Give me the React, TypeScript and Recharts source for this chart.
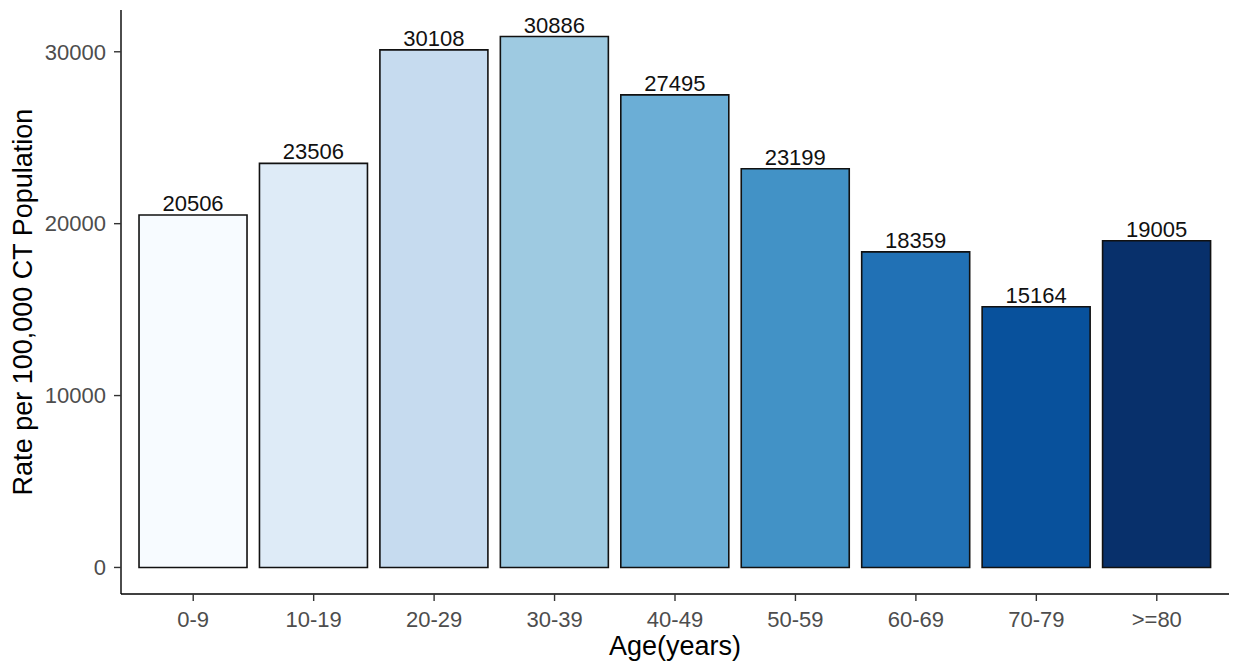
import React from "react";
import { BarChart, Bar, XAxis, YAxis, Cell, LabelList } from "recharts";

const categories = ["0-9", "10-19", "20-29", "30-39", "40-49", "50-59", "60-69", "70-79", ">=80"];
const rates = [20506, 23506, 30108, 30886, 27495, 23199, 18359, 15164, 19005];
const colors = ["#F7FBFF", "#DEEBF7", "#C6DBEF", "#9ECAE1", "#6BAED6", "#4292C6", "#2171B5", "#08519C", "#08306B"];
const yTicks = [0, 10000, 20000, 30000];

const data = categories.map((c, i) => ({ age: c, rate: rates[i] }));

const FONT = "'Liberation Sans', Arial, sans-serif";
const maxV = Math.max(...rates);
const pad = maxV * 0.05;

export default function App() {
  return (
    <div style={{ width: 1233, height: 668 }}>
      <style>{`body{margin:0;}`}</style>
      <BarChart
        width={1233}
        height={668}
        data={data}
        margin={{ top: 10, right: 4, bottom: 0, left: 0 }}
        barCategoryGap="5%"
      >
        <XAxis
          dataKey="age"
          height={74}
          padding={{ left: 12, right: 12 }}
          tickSize={7}
          tickMargin={10}
          axisLine={{ stroke: "#000", strokeWidth: 1.4 }}
          tickLine={{ stroke: "#333", strokeWidth: 1.4 }}
          tick={{ fill: "#4D4D4D", fontSize: 22, fontFamily: FONT }}
          label={{
            content: (props: any) => {
              const vb = props.viewBox;
              return (
                <text
                  x={vb.x + vb.width / 2}
                  y={655}
                  textAnchor="middle"
                  fontSize={27}
                  fontFamily={FONT}
                  fill="#000"
                >
                  Age(years)
                </text>
              );
            },
          }}
        />
        <YAxis
          width={121}
          domain={[-pad, maxV + pad]}
          ticks={yTicks}
          allowDataOverflow
          tickSize={7}
          tickMargin={8}
          axisLine={{ stroke: "#000", strokeWidth: 1.4 }}
          tickLine={{ stroke: "#333", strokeWidth: 1.4 }}
          tick={{ fill: "#4D4D4D", fontSize: 22, fontFamily: FONT }}
          label={{
            content: (props: any) => {
              const vb = props.viewBox;
              const cy = vb.y + vb.height / 2;
              return (
                <text
                  x={32}
                  y={cy}
                  transform={`rotate(-90, 32, ${cy})`}
                  textAnchor="middle"
                  fontSize={27}
                  fontFamily={FONT}
                  fill="#000"
                >
                  Rate per 100,000 CT Population
                </text>
              );
            },
          }}
        />
        <Bar dataKey="rate" isAnimationActive={false} stroke="#111" strokeWidth={1.6}>
          {data.map((d, i) => (
            <Cell key={d.age} fill={colors[i]} />
          ))}
          <LabelList
            dataKey="rate"
            position="top"
            offset={4}
            fill="#111"
            fontSize={22}
            fontFamily={FONT}
          />
        </Bar>
      </BarChart>
    </div>
  );
}
